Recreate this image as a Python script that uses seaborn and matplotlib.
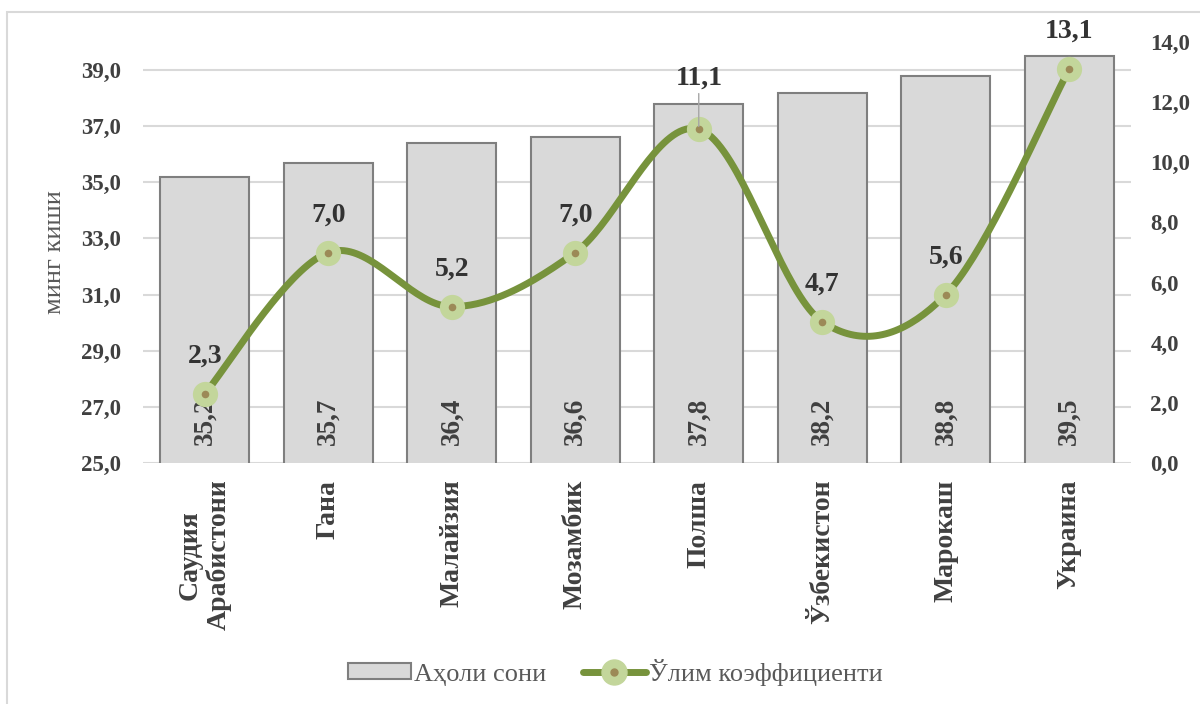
import numpy as np
import pandas as pd
import matplotlib
matplotlib.use("Agg")
import matplotlib.pyplot as plt
import seaborn as sns
from matplotlib.patches import Patch, Rectangle
from matplotlib.lines import Line2D

# ---- data ----
countries = ["Саудия\nАрабистони", "Гана", "Малайзия", "Мозамбик",
             "Полша", "Ўзбекистон", "Марокаш", "Украина"]
population = [35.2, 35.7, 36.4, 36.6, 37.8, 38.2, 38.8, 39.5]
mortality = [2.3, 7.0, 5.2, 7.0, 11.1, 4.7, 5.6, 13.1]
left_ticks = [25, 27, 29, 31, 33, 35, 37, 39]
right_ticks = [0, 2, 4, 6, 8, 10, 12, 14]

df = pd.DataFrame({"country": countries, "pop": population, "mort": mortality})

BAR = "#D9D9D9"
BAR_EDGE = "#7F7F7F"
GREEN = "#77933C"
LIGHT = "#C3D69B"
DOT = "#9C8A57"
TXT = "#404040"

sns.set_style("white")
plt.rcParams["font.family"] = ["Liberation Serif", "DejaVu Serif"]


def fmt(v):
    return f"{v:.1f}".replace(".", ",")


def smooth(xs, ys, n=40):
    # excel-like smoothed line (cardinal bezier through the points)
    pts = np.column_stack([xs, ys]).astype(float)
    p = np.vstack([pts[0], pts, pts[-1]])
    segs = []
    t = np.linspace(0, 1, n)[:, None]
    for i in range(1, len(p) - 2):
        p0, p1, p2, p3 = p[i - 1], p[i], p[i + 1], p[i + 2]
        c1 = p1 + (p2 - p0) / 6
        c2 = p2 - (p3 - p1) / 6
        segs.append((1 - t) ** 3 * p1 + 3 * (1 - t) ** 2 * t * c1
                    + 3 * (1 - t) * t ** 2 * c2 + t ** 3 * p2)
    return np.vstack(segs)


fig = plt.figure(figsize=(12, 7.04), dpi=100)
ax = fig.add_axes([143 / 1200, 1 - 463 / 704, 988 / 1200, 421 / 704])

sns.barplot(data=df, x="country", y="pop", ax=ax, color=BAR, saturation=1,
            edgecolor=BAR_EDGE, linewidth=1.5, width=0.72, zorder=2)
ax.set_ylim(25, 40)
ax.set_yticks(left_ticks)
ax.set_yticklabels([fmt(v) for v in left_ticks])
ax.set_xlabel("")
ax.set_ylabel("")
ax.yaxis.grid(True, color="#D9D9D9", lw=1.5, zorder=0)
ax.set_axisbelow(True)
for s in ax.spines.values():
    s.set_visible(False)
ax.tick_params(axis="y", length=0, pad=16, labelsize=16.5, labelcolor=TXT)
ax.tick_params(axis="x", length=0, pad=12, labelsize=20, labelcolor=TXT)
for lab in ax.get_yticklabels():
    lab.set_fontweight("bold")
for lab in ax.get_xticklabels():
    lab.set_rotation(90)
    lab.set_fontweight("bold")
    lab.set_va("top")
    lab.set_ha("center")
    lab.set_multialignment("center")

# bar value labels at the base
for i, v in enumerate(population):
    ax.annotate(fmt(v), (i, 25), xytext=(0, 13), textcoords="offset points",
                rotation=90, ha="center", va="bottom", fontsize=19.5,
                fontweight="bold", color=TXT, zorder=3)

# secondary axis with the smoothed line
ax2 = ax.twinx()
ax2.set_ylim(0, 14)
ax2.set_yticks(right_ticks)
ax2.set_yticklabels([fmt(v) for v in right_ticks])
ax2.tick_params(axis="y", length=0, pad=14, labelsize=16.5, labelcolor=TXT)
for lab in ax2.get_yticklabels():
    lab.set_fontweight("bold")
for s in ax2.spines.values():
    s.set_visible(False)

xs = np.arange(len(mortality))
curve = smooth(xs, mortality)
ax2.plot(curve[:, 0], curve[:, 1], color=GREEN, lw=5, solid_capstyle="round", zorder=3)
sns.scatterplot(x=xs, y=mortality, ax=ax2, s=330, color=LIGHT, edgecolor=LIGHT,
                linewidth=0, zorder=4, legend=False)
sns.scatterplot(x=xs, y=mortality, ax=ax2, s=30, color=DOT, edgecolor=DOT,
                linewidth=0, zorder=5, legend=False)

for i, v in enumerate(mortality):
    if v == 11.1:
        ax2.annotate(fmt(v), (i, v), xytext=(0, 37), textcoords="offset points",
                     ha="center", va="center", fontsize=20, fontweight="bold",
                     color="#333333", zorder=6,
                     arrowprops=dict(arrowstyle="-", color="#A6A6A6", lw=1,
                                     shrinkA=0, shrinkB=2))
    else:
        ax2.annotate(fmt(v), (i, v), xytext=(0, 27), textcoords="offset points",
                     ha="center", va="center", fontsize=20, fontweight="bold",
                     color="#333333", zorder=6)

ax.set_xlim(-0.5, len(countries) - 0.5)

fig.text(66 / 1200, 1 - 252 / 704, "минг киши", rotation=90, ha="right",
         va="center", fontsize=19, color="#595959")

# legend
h_bar = Patch(facecolor=BAR, edgecolor=BAR_EDGE, linewidth=1.5)
h_line = (Line2D([], [], color=GREEN, lw=5),
          Line2D([], [], ls="", marker="o", ms=18, mfc=LIGHT, mec=LIGHT),
          Line2D([], [], ls="", marker="o", ms=5, mfc=DOT, mec=DOT))
fig.legend([h_bar, h_line], ["Аҳоли сони", "Ўлим коэффициенти"], loc="center",
           bbox_to_anchor=(615 / 1200, 1 - 672 / 704), ncol=2, frameon=False,
           fontsize=19, handlelength=2.4, handleheight=0.55, handletextpad=0.1,
           columnspacing=1.4, labelcolor="#595959")

# chart border
fig.add_artist(Rectangle((7 / 1200, -0.2), 1.2, 1.2 - 12 / 704, transform=fig.transFigure,
                         fill=False, edgecolor="#D9D9D9", lw=1.5))

fig.savefig("out.png", dpi=100)
